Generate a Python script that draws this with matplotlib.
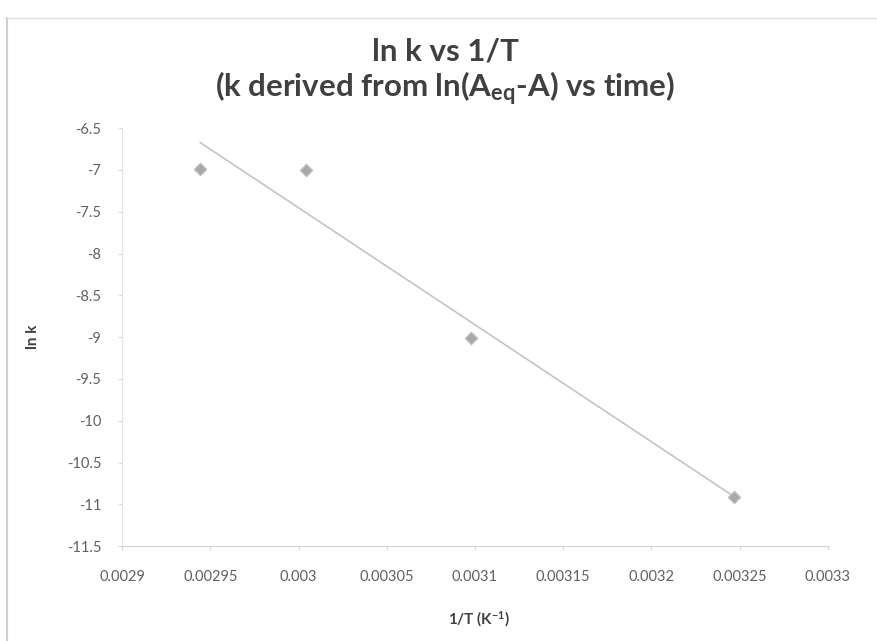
import matplotlib
matplotlib.use("Agg")
import matplotlib.pyplot as plt
import numpy as np

plt.rcParams['font.family'] = ['Lato', 'DejaVu Sans']
plt.rcParams['mathtext.default'] = 'regular'

# rate constants against inverse temperature
inv_T = np.array([0.0029443, 0.0030045, 0.0030977, 0.0032466])   # 1/T (K^-1)
ln_k = np.array([-6.99, -7.00, -9.01, -10.91])

x_ticks = [0.0029, 0.00295, 0.003, 0.00305, 0.0031, 0.00315, 0.0032, 0.00325, 0.0033]
y_ticks = [-6.5, -7, -7.5, -8, -8.5, -9, -9.5, -10, -10.5, -11, -11.5]

# least-squares trendline over the data range
slope, intercept = np.polyfit(inv_T, ln_k, 1)
x_fit = np.array([inv_T.min(), inv_T.max()])
y_fit = slope * x_fit + intercept

fig = plt.figure(figsize=(8.78, 6.41), dpi=100)
ax = fig.add_axes([0.139, 0.148, 0.804, 0.652])

ax.plot(x_fit, y_fit, color='#c4c4c4', lw=1.2, zorder=2)
ax.scatter(inv_T, ln_k, marker='D', s=38, color='#a8a8a8', edgecolor='#bdbdbd', zorder=3)

ax.set_xlim(x_ticks[0], x_ticks[-1])
ax.set_ylim(min(y_ticks), max(y_ticks))
ax.set_xticks(x_ticks)
ax.set_xticklabels(['%g' % t for t in x_ticks])
ax.set_yticks(y_ticks)
ax.set_yticklabels(['%g' % t for t in y_ticks])
ax.tick_params(colors='#d8d8d8', labelcolor='#606060', labelsize=10.5, length=3)
ax.tick_params(axis='x', pad=14)
ax.tick_params(axis='y', pad=12)

for side in ['top', 'right']:
    ax.spines[side].set_visible(False)
ax.spines['left'].set_color('#e4e4e4')
ax.spines['bottom'].set_color('#d0d0d0')

ax.set_xlabel('1/T (K$^{-1}$)', fontsize=11, fontweight='bold', color='#404040')
ax.xaxis.set_label_coords(0.505, -0.151)
ax.set_ylabel('ln k', fontsize=11, fontweight='bold', color='#404040')
ax.yaxis.set_label_coords(-0.116, 0.5)

fig.text(0.507, 0.920, 'ln k vs 1/T', ha='center', va='center', fontsize=22.5,
         fontweight='bold', color='#404040')
fig.text(0.507, 0.861, '(k derived from ln(A$_{eq}$-A) vs time)', ha='center', va='center',
         fontsize=22.5, fontweight='bold', color='#404040')

# chart frame
fig.add_artist(plt.Line2D([0.008, 0.008], [0.0, 0.972], color='#d0d0d0', lw=1.5))
fig.add_artist(plt.Line2D([0.008, 1.0], [0.972, 0.972], color='#e0e0e0', lw=1.0))

fig.savefig('out.png', dpi=100, facecolor='white')
